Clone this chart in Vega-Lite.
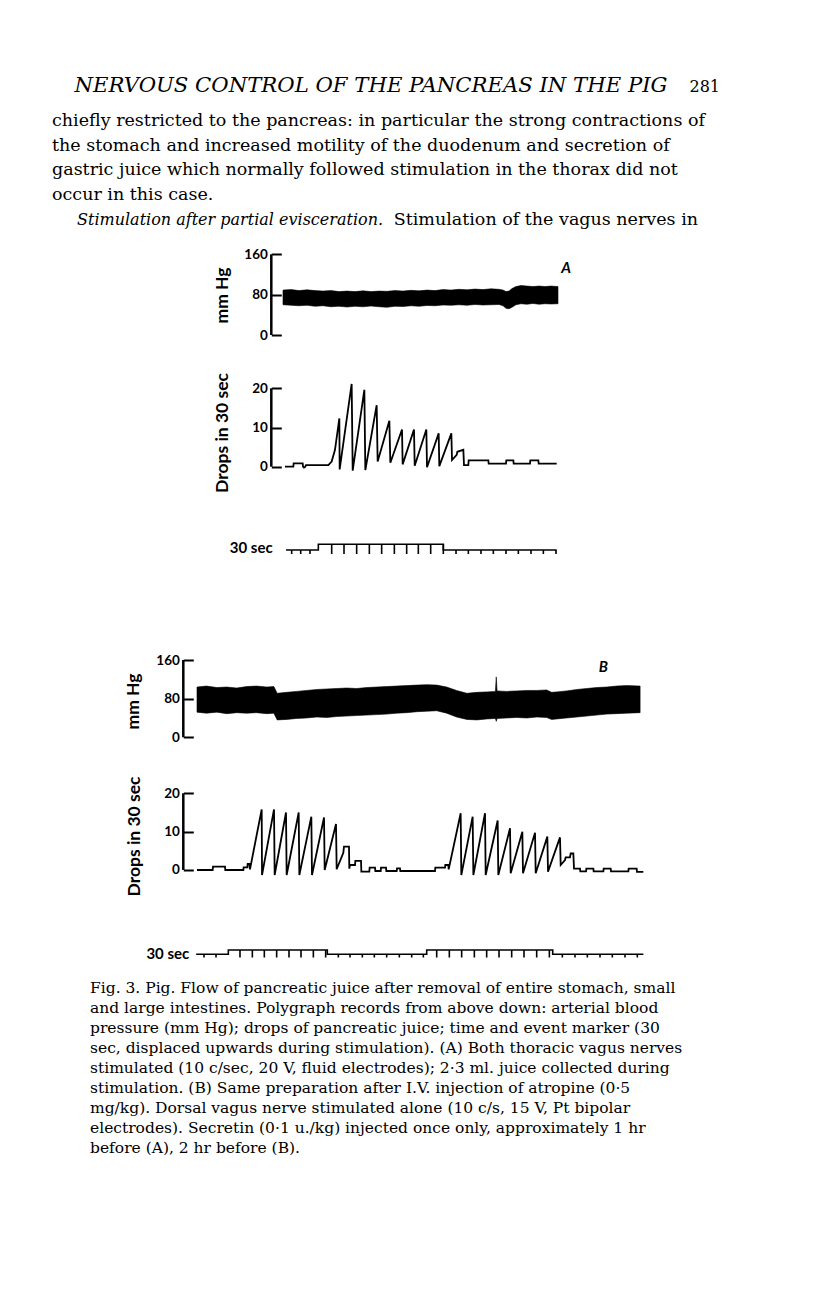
{
  "$schema": "https://vega.github.io/schema/vega-lite/v6.json",
  "padding": {"left": 52, "top": 0, "right": 0, "bottom": 0},
  "background": "white",
  "bounds": "flush",
  "spacing": 0,
  "config": {
    "view": {"stroke": null},
    "axis": {
      "domain": false, "grid": false,
      "tickSize": -10, "tickWidth": 2, "tickColor": "black",
      "labelFont": "Lato", "labelFontWeight": "bold", "labelFontSize": 13.5, "labelColor": "black", "labelPadding": 14,
      "titleFont": "Lato", "titleFontWeight": "bold", "titleFontSize": 17.5, "titleColor": "black"
    }
  },
  "datasets": {
    "page": [
      {"part": "head", "line": 0, "text": "NERVOUS CONTROL OF THE PANCREAS IN THE PIG"},
      {"part": "folio", "line": 0, "text": "281"},
      {"part": "body", "line": 1, "text": "chiefly restricted to the pancreas: in particular the strong contractions of"},
      {"part": "body", "line": 2, "text": "the stomach and increased motility of the duodenum and secretion of"},
      {"part": "body", "line": 3, "text": "gastric juice which normally followed stimulation in the thorax did not"},
      {"part": "body", "line": 4, "text": "occur in this case."},
      {"part": "italic", "line": 5, "text": "Stimulation after partial evisceration."},
      {"part": "tail", "line": 5, "text": "Stimulation of the vagus nerves in"}
    ],
    "caption": [
      {"line": 1, "text": "Fig. 3.  Pig. Flow of pancreatic juice after removal of entire stomach, small"},
      {"line": 2, "text": "and large intestines. Polygraph records from above down: arterial blood"},
      {"line": 3, "text": "pressure (mm Hg); drops of pancreatic juice; time and event marker (30"},
      {"line": 4, "text": "sec, displaced upwards during stimulation). (A) Both thoracic vagus nerves"},
      {"line": 5, "text": "stimulated (10 c/sec, 20 V, fluid electrodes); 2·3 ml. juice collected during"},
      {"line": 6, "text": "stimulation. (B) Same preparation after I.V. injection of atropine (0·5"},
      {"line": 7, "text": "mg/kg). Dorsal vagus nerve stimulated alone (10 c/s, 15 V, Pt bipolar"},
      {"line": 8, "text": "electrodes). Secretin (0·1 u./kg) injected once only, approximately 1 hr"},
      {"line": 9, "text": "before (A), 2 hr before (B)."}
    ],
    "bpA": [
      {"t": 0, "low": 60, "high": 89}, {"t": 19.4, "low": 59, "high": 90}, {"t": 38.7, "low": 58, "high": 88},
      {"t": 58.1, "low": 59, "high": 89.5}, {"t": 77.4, "low": 57, "high": 88}, {"t": 96.8, "low": 58, "high": 87},
      {"t": 116.1, "low": 56, "high": 88}, {"t": 135.5, "low": 57, "high": 86}, {"t": 154.8, "low": 55.5, "high": 87},
      {"t": 174.2, "low": 57, "high": 86}, {"t": 193.5, "low": 56, "high": 87.5}, {"t": 212.9, "low": 57.5, "high": 86},
      {"t": 232.3, "low": 56, "high": 87}, {"t": 251.6, "low": 55, "high": 86.5}, {"t": 271, "low": 57, "high": 88},
      {"t": 290.3, "low": 56.5, "high": 87}, {"t": 309.7, "low": 58, "high": 88.5}, {"t": 329, "low": 57, "high": 87.5},
      {"t": 348.4, "low": 58.5, "high": 89}, {"t": 367.7, "low": 58, "high": 88}, {"t": 387.1, "low": 59.5, "high": 90},
      {"t": 406.5, "low": 59, "high": 89}, {"t": 425.8, "low": 60, "high": 90.5}, {"t": 445.2, "low": 59, "high": 89.5},
      {"t": 464.5, "low": 60.5, "high": 91}, {"t": 483.9, "low": 59.5, "high": 90}, {"t": 503.2, "low": 60, "high": 91.5},
      {"t": 522.6, "low": 60.5, "high": 90.5}, {"t": 532.3, "low": 58, "high": 89}, {"t": 539.5, "low": 53, "high": 86},
      {"t": 546.8, "low": 52, "high": 87}, {"t": 554, "low": 55, "high": 92}, {"t": 563.7, "low": 60, "high": 96},
      {"t": 575.8, "low": 62, "high": 98}, {"t": 590.3, "low": 61, "high": 97}, {"t": 604.8, "low": 62.5, "high": 96},
      {"t": 619.4, "low": 61, "high": 97}, {"t": 633.9, "low": 62, "high": 96}, {"t": 648.4, "low": 61.5, "high": 97},
      {"t": 665.3, "low": 62, "high": 96}
    ],
    "bpB": [
      {"t": 0, "low": 52, "high": 104}, {"t": 23, "low": 50, "high": 106}, {"t": 48, "low": 52, "high": 103},
      {"t": 72, "low": 49, "high": 104}, {"t": 96, "low": 51, "high": 102}, {"t": 120, "low": 50, "high": 105},
      {"t": 144, "low": 51, "high": 106}, {"t": 169, "low": 49, "high": 104}, {"t": 186, "low": 50, "high": 105},
      {"t": 194, "low": 36, "high": 91}, {"t": 217, "low": 37, "high": 93}, {"t": 241, "low": 39, "high": 95},
      {"t": 265, "low": 40, "high": 97}, {"t": 290, "low": 42, "high": 99}, {"t": 314, "low": 41, "high": 100},
      {"t": 338, "low": 43, "high": 101}, {"t": 362, "low": 44, "high": 102}, {"t": 386, "low": 45, "high": 101},
      {"t": 411, "low": 46, "high": 103}, {"t": 435, "low": 47, "high": 104}, {"t": 459, "low": 48, "high": 105},
      {"t": 483, "low": 50, "high": 106}, {"t": 507, "low": 51, "high": 107}, {"t": 532, "low": 53, "high": 108},
      {"t": 556, "low": 54, "high": 109}, {"t": 580, "low": 55, "high": 108}, {"t": 604, "low": 50, "high": 104},
      {"t": 628, "low": 42, "high": 97}, {"t": 653, "low": 37, "high": 91}, {"t": 677, "low": 36, "high": 93},
      {"t": 701, "low": 38, "high": 94}, {"t": 722, "low": 39, "high": 95}, {"t": 724, "low": 33, "high": 125},
      {"t": 726, "low": 39, "high": 96}, {"t": 749, "low": 40, "high": 95}, {"t": 773, "low": 41, "high": 96},
      {"t": 798, "low": 40, "high": 97}, {"t": 822, "low": 42, "high": 97}, {"t": 846, "low": 41, "high": 98},
      {"t": 858, "low": 37, "high": 93}, {"t": 870, "low": 38, "high": 94}, {"t": 894, "low": 40, "high": 96},
      {"t": 919, "low": 42, "high": 99}, {"t": 943, "low": 44, "high": 101}, {"t": 967, "low": 46, "high": 103},
      {"t": 991, "low": 48, "high": 104}, {"t": 1015, "low": 49, "high": 106}, {"t": 1040, "low": 50, "high": 107},
      {"t": 1072, "low": 51, "high": 106}
    ],
    "dropsA": [
      {"t": 4.8, "v": 0}, {"t": 25.0, "v": 0}, {"t": 25.8, "v": 0.85}, {"t": 47.6, "v": 0.85}, {"t": 48.4, "v": 0},
      {"t": 50.8, "v": -0.25}, {"t": 54.0, "v": 0}, {"t": 55.6, "v": 0.4}, {"t": 109.7, "v": 0.4}, {"t": 117.7, "v": 1.3},
      {"t": 125.8, "v": 4.3}, {"t": 136.3, "v": 12.3}, {"t": 137.1, "v": -0.7}, {"t": 166.1, "v": 21.1}, {"t": 168.6, "v": -1.0},
      {"t": 196.8, "v": 19.6}, {"t": 199.2, "v": -0.85}, {"t": 226.6, "v": 15.7}, {"t": 229.0, "v": 1.3},
      {"t": 257.3, "v": 11.7}, {"t": 259.7, "v": 1.0}, {"t": 287.9, "v": 9.5}, {"t": 289.5, "v": 0.6},
      {"t": 316.9, "v": 9.5}, {"t": 318.6, "v": 0.25}, {"t": 346.8, "v": 9.5}, {"t": 348.4, "v": -0.15},
      {"t": 376.6, "v": 8.5}, {"t": 378.2, "v": 0.15}, {"t": 407.3, "v": 8.5}, {"t": 408.9, "v": 1.7},
      {"t": 420.2, "v": 3.0}, {"t": 421.8, "v": 3.8}, {"t": 436.3, "v": 4.3}, {"t": 437.9, "v": 0.4},
      {"t": 448.4, "v": 0.4}, {"t": 449.2, "v": 1.6}, {"t": 496.8, "v": 1.6}, {"t": 497.6, "v": 0.8},
      {"t": 539.5, "v": 0.8}, {"t": 540.3, "v": 1.6}, {"t": 557.3, "v": 1.6}, {"t": 558.1, "v": 0.8},
      {"t": 597.6, "v": 0.8}, {"t": 598.4, "v": 1.6}, {"t": 617.7, "v": 1.6}, {"t": 618.6, "v": 0.8}, {"t": 662.1, "v": 0.8}
    ],
    "dropsB": [
      {"t": 0, "v": 0}, {"t": 37.9, "v": 0}, {"t": 38.7, "v": 0.87}, {"t": 67.7, "v": 0.87}, {"t": 68.5, "v": 0},
      {"t": 112.1, "v": 0}, {"t": 112.9, "v": 0.7}, {"t": 121.8, "v": 0.7}, {"t": 122.6, "v": 1.57}, {"t": 126.6, "v": 1.57},
      {"t": 128.2, "v": 0.17}, {"t": 156.5, "v": 15.8}, {"t": 157.3, "v": -1.3}, {"t": 186.3, "v": 15.8}, {"t": 187.9, "v": -1.3},
      {"t": 215.3, "v": 15.0}, {"t": 216.9, "v": -1.3}, {"t": 246.0, "v": 15.0}, {"t": 247.6, "v": -1.3},
      {"t": 276.6, "v": 13.9}, {"t": 278.2, "v": -1.3}, {"t": 307.3, "v": 13.7}, {"t": 308.9, "v": 0},
      {"t": 336.3, "v": 12.0}, {"t": 337.9, "v": 0.2}, {"t": 354.0, "v": 4.5}, {"t": 355.6, "v": 6.1},
      {"t": 367.7, "v": 6.1}, {"t": 368.5, "v": 0.35}, {"t": 370.2, "v": 1.3}, {"t": 382.3, "v": 1.3},
      {"t": 383.1, "v": 2.4}, {"t": 396.8, "v": 2.4}, {"t": 397.6, "v": -0.43}, {"t": 416.9, "v": -0.43},
      {"t": 417.7, "v": 0.6}, {"t": 430.7, "v": 0.6}, {"t": 431.5, "v": -0.26}, {"t": 444.4, "v": -0.26},
      {"t": 445.2, "v": 0.6}, {"t": 457.3, "v": 0.6}, {"t": 458.1, "v": -0.26}, {"t": 483.1, "v": -0.26},
      {"t": 483.9, "v": 0.4}, {"t": 491.1, "v": 0.4}, {"t": 491.9, "v": -0.26}, {"t": 575.8, "v": -0.26},
      {"t": 576.6, "v": 0.6}, {"t": 600.0, "v": 0.6}, {"t": 600.8, "v": 1.3}, {"t": 608.1, "v": 1.3},
      {"t": 608.9, "v": 0.17}, {"t": 637.9, "v": 14.8}, {"t": 639.5, "v": -1.3}, {"t": 666.9, "v": 13.9},
      {"t": 668.6, "v": -1.3}, {"t": 696.8, "v": 14.8}, {"t": 698.4, "v": -1.3}, {"t": 727.4, "v": 12.9},
      {"t": 729.0, "v": -1.3}, {"t": 757.3, "v": 10.9}, {"t": 758.9, "v": -0.87}, {"t": 787.1, "v": 10.0},
      {"t": 788.7, "v": -0.87}, {"t": 817.8, "v": 9.7}, {"t": 819.4, "v": -0.87}, {"t": 847.6, "v": 8.7},
      {"t": 849.2, "v": -0.43}, {"t": 878.2, "v": 8.5}, {"t": 879.9, "v": 1.3}, {"t": 890.3, "v": 2.6},
      {"t": 891.9, "v": 3.3}, {"t": 902.4, "v": 3.3}, {"t": 904.0, "v": 4.3}, {"t": 910.5, "v": 4.3},
      {"t": 912.1, "v": 0.35}, {"t": 926.6, "v": 0.35}, {"t": 927.4, "v": -0.35}, {"t": 941.2, "v": -0.35},
      {"t": 942.0, "v": 0.35}, {"t": 958.9, "v": 0.35}, {"t": 959.7, "v": -0.35}, {"t": 983.1, "v": -0.35},
      {"t": 983.9, "v": 0.35}, {"t": 1000.8, "v": 0.35}, {"t": 1001.6, "v": -0.35}, {"t": 1043.6, "v": -0.35},
      {"t": 1044.4, "v": 0.35}, {"t": 1063.7, "v": 0.35}, {"t": 1064.5, "v": -0.5}, {"t": 1079.8, "v": -0.5}
    ],
    "markA_line": [
      {"t": 7.3, "state": 0}, {"t": 85.5, "state": 1}, {"t": 387.9, "state": 0}, {"t": 662.1, "state": 0}
    ],
    "markA_ticks": [
      {"t": 21.0, "state": 0}, {"t": 42.8, "state": 0}, {"t": 65.3, "state": 0},
      {"t": 117.8, "state": 1}, {"t": 147.6, "state": 1}, {"t": 178.2, "state": 1}, {"t": 208.9, "state": 1},
      {"t": 238.7, "state": 1}, {"t": 269.4, "state": 1}, {"t": 299.2, "state": 1}, {"t": 327.4, "state": 1},
      {"t": 357.3, "state": 1}, {"t": 387.9, "state": 1},
      {"t": 418.6, "state": 0}, {"t": 448.4, "state": 0}, {"t": 479.0, "state": 0}, {"t": 508.9, "state": 0},
      {"t": 539.5, "state": 0}, {"t": 569.4, "state": 0}, {"t": 600.0, "state": 0}, {"t": 629.9, "state": 0},
      {"t": 660.5, "state": 0}
    ],
    "markB_line": [
      {"t": -2, "state": 0}, {"t": 75.8, "state": 1}, {"t": 315.3, "state": 0}, {"t": 555.7, "state": 1},
      {"t": 860.6, "state": 0}, {"t": 1080, "state": 0}
    ],
    "markB_ticks": [
      {"t": 16.9, "state": 0}, {"t": 46.0, "state": 0},
      {"t": 104.0, "state": 1}, {"t": 133.9, "state": 1}, {"t": 162.9, "state": 1}, {"t": 192.7, "state": 1},
      {"t": 222.6, "state": 1}, {"t": 251.6, "state": 1}, {"t": 281.5, "state": 1}, {"t": 311.3, "state": 1},
      {"t": 341.9, "state": 0}, {"t": 370.2, "state": 0}, {"t": 400.0, "state": 0}, {"t": 429.0, "state": 0},
      {"t": 458.9, "state": 0}, {"t": 489.5, "state": 0}, {"t": 519.4, "state": 0}, {"t": 547.6, "state": 0},
      {"t": 579.9, "state": 1}, {"t": 610.5, "state": 1}, {"t": 640.3, "state": 1}, {"t": 671.0, "state": 1},
      {"t": 700.8, "state": 1}, {"t": 730.7, "state": 1}, {"t": 761.3, "state": 1}, {"t": 791.1, "state": 1},
      {"t": 821.8, "state": 1}, {"t": 852.5, "state": 1},
      {"t": 883.9, "state": 0}, {"t": 914.5, "state": 0}, {"t": 944.4, "state": 0}, {"t": 975.0, "state": 0},
      {"t": 1004.8, "state": 0}, {"t": 1035.5, "state": 0}, {"t": 1065.3, "state": 0}
    ]
  },
  "vconcat": [
    {
      "width": 670, "height": 228,
      "data": {"name": "page"},
      "encoding": {
        "y": {"field": "line", "type": "quantitative", "scale": {"domain": [-4.0624, 5.12], "reverse": true, "nice": false, "zero": false}, "axis": null},
        "text": {"field": "text"}
      },
      "layer": [
        {"transform": [{"filter": "datum.part === 'head'"}],
         "mark": {"type": "text", "x": 0, "dx": 22.5, "dy": -9.2, "align": "left", "baseline": "alphabetic", "font": "DejaVu Serif", "fontStyle": "italic", "fontSize": 21.2, "fill": "black"}},
        {"transform": [{"filter": "datum.part === 'folio'"}],
         "mark": {"type": "text", "x": 0, "dx": 668, "dy": -9.2, "align": "right", "baseline": "alphabetic", "font": "DejaVu Serif", "fontSize": 16, "fill": "black"}},
        {"transform": [{"filter": "datum.part === 'body'"}],
         "mark": {"type": "text", "x": 0, "align": "left", "baseline": "alphabetic", "font": "DejaVu Serif", "fontSize": 17.5, "fill": "black"}},
        {"transform": [{"filter": "datum.part === 'italic'"}],
         "mark": {"type": "text", "x": 0, "dx": 25, "align": "left", "baseline": "alphabetic", "font": "DejaVu Serif", "fontStyle": "italic", "fontSize": 16, "fill": "black"}},
        {"transform": [{"filter": "datum.part === 'tail'"}],
         "mark": {"type": "text", "x": 0, "dx": 341.7, "align": "left", "baseline": "alphabetic", "font": "DejaVu Serif", "fontSize": 17.5, "fill": "black"}}
      ]
    },
    {
      "width": 670, "height": 134,
      "layer": [
        {"data": {"name": "bpA"},
         "mark": {"type": "area", "fill": "black", "stroke": "black", "strokeWidth": 0.6},
         "encoding": {
           "x": {"field": "t", "type": "quantitative", "scale": {"domain": [-558.87, 1062.1], "nice": false, "zero": false}, "axis": null},
           "y": {"field": "low", "type": "quantitative", "scale": {"domain": [-53.53, 212.14], "nice": false, "zero": false},
                 "axis": {"title": "mm Hg", "values": [0, 40, 80, 120, 160], "labelExpr": "datum.value % 80 === 0 ? datum.label : ''", "offset": -219.3, "titlePadding": 12}},
           "y2": {"field": "high"}
         }},
        {"data": {"values": [{}]},
         "mark": {"type": "rule", "strokeWidth": 2.5, "color": "black"},
         "encoding": {"x": {"datum": -28.3, "type": "quantitative", "axis": null}, "y": {"datum": 0, "type": "quantitative"}, "y2": {"datum": 160}}},
        {"data": {"values": [{}]},
         "mark": {"type": "text", "text": "A", "font": "Lato", "fontWeight": "bold", "fontStyle": "italic", "fontSize": 15, "fill": "black", "align": "center", "baseline": "middle"},
         "encoding": {"x": {"datum": 684.7, "type": "quantitative", "axis": null}, "y": {"datum": 132.8, "type": "quantitative"}}}
      ]
    },
    {
      "width": 670, "height": 141,
      "layer": [
        {"data": {"name": "dropsA"},
         "mark": {"type": "line", "color": "black", "strokeWidth": 1.8},
         "encoding": {
           "x": {"field": "t", "type": "quantitative", "scale": {"domain": [-558.87, 1062.1], "nice": false, "zero": false}, "axis": null},
           "y": {"field": "v", "type": "quantitative", "scale": {"domain": [-9.26, 26.71], "nice": false, "zero": false},
                 "axis": {"title": "Drops in 30 sec", "values": [0, 5, 10, 15, 20], "labelExpr": "datum.value % 10 === 0 ? datum.label : ''", "offset": -219.3, "titlePadding": 20}}
         }},
        {"data": {"values": [{}]},
         "mark": {"type": "rule", "strokeWidth": 2.5, "color": "black"},
         "encoding": {"x": {"datum": -28.3, "type": "quantitative", "axis": null}, "y": {"datum": 0, "type": "quantitative"}, "y2": {"datum": 20}}}
      ]
    },
    {
      "width": 670, "height": 134,
      "layer": [
        {"data": {"name": "markA_line"},
         "mark": {"type": "line", "interpolate": "step-after", "color": "black", "strokeWidth": 1.6},
         "encoding": {
           "x": {"field": "t", "type": "quantitative", "scale": {"domain": [-558.87, 1062.1], "nice": false, "zero": false}, "axis": null},
           "y": {"field": "state", "type": "quantitative", "scale": {"domain": [-15.263, 8.246], "nice": false, "zero": false}, "axis": null}
         }},
        {"data": {"name": "markA_ticks"},
         "mark": {"type": "rule", "color": "black", "strokeWidth": 1.6},
         "encoding": {
           "x": {"field": "t", "type": "quantitative", "axis": null},
           "y": {"field": "state", "type": "quantitative", "axis": null},
           "y2": {"datum": -0.702}
         }},
        {"data": {"values": [{}]},
         "mark": {"type": "text", "text": "30 sec", "font": "Lato", "fontWeight": "bold", "fontSize": 15, "fill": "black", "align": "right", "baseline": "middle"},
         "encoding": {"x": {"datum": -24.9, "type": "quantitative", "axis": null}, "y": {"datum": 0.3, "type": "quantitative", "axis": null}}}
      ]
    },
    {
      "width": 670, "height": 128,
      "layer": [
        {"data": {"name": "bpB"},
         "mark": {"type": "area", "fill": "black", "stroke": "black", "strokeWidth": 0.6},
         "encoding": {
           "x": {"field": "t", "type": "quantitative", "scale": {"domain": [-350.81, 1270.16], "nice": false, "zero": false}, "axis": null},
           "y": {"field": "low", "type": "quantitative", "scale": {"domain": [-57.33, 207.61], "nice": false, "zero": false},
                 "axis": {"title": "mm Hg", "values": [0, 40, 80, 120, 160], "labelExpr": "datum.value % 80 === 0 ? datum.label : ''", "offset": -131.3, "titlePadding": 13}},
           "y2": {"field": "high"}
         }},
        {"data": {"values": [{}]},
         "mark": {"type": "rule", "strokeWidth": 2.5, "color": "black"},
         "encoding": {"x": {"datum": -33.15, "type": "quantitative", "axis": null}, "y": {"datum": 0, "type": "quantitative"}, "y2": {"datum": 160}}},
        {"data": {"values": [{}]},
         "mark": {"type": "text", "text": "B", "font": "Lato", "fontWeight": "bold", "fontStyle": "italic", "fontSize": 15, "fill": "black", "align": "center", "baseline": "middle"},
         "encoding": {"x": {"datum": 983, "type": "quantitative", "axis": null}, "y": {"datum": 146.1, "type": "quantitative"}}}
      ]
    },
    {
      "width": 670, "height": 142,
      "layer": [
        {"data": {"name": "dropsB"},
         "mark": {"type": "line", "color": "black", "strokeWidth": 1.8},
         "encoding": {
           "x": {"field": "t", "type": "quantitative", "scale": {"domain": [-350.81, 1270.16], "nice": false, "zero": false}, "axis": null},
           "y": {"field": "v", "type": "quantitative", "scale": {"domain": [-9.648, 27.379], "nice": false, "zero": false},
                 "axis": {"title": "Drops in 30 sec", "values": [0, 5, 10, 15, 20], "labelExpr": "datum.value % 10 === 0 ? datum.label : ''", "offset": -131.3, "titlePadding": 20}}
         }},
        {"data": {"values": [{}]},
         "mark": {"type": "rule", "strokeWidth": 2.5, "color": "black"},
         "encoding": {"x": {"datum": -33.15, "type": "quantitative", "axis": null}, "y": {"datum": 0, "type": "quantitative"}, "y2": {"datum": 20}}}
      ]
    },
    {
      "width": 670, "height": 65,
      "layer": [
        {"data": {"name": "markB_line"},
         "mark": {"type": "line", "interpolate": "step-after", "color": "black", "strokeWidth": 1.6},
         "encoding": {
           "x": {"field": "t", "type": "quantitative", "scale": {"domain": [-350.81, 1270.16], "nice": false, "zero": false}, "axis": null},
           "y": {"field": "state", "type": "quantitative", "scale": {"domain": [-4.116, 11.0], "nice": false, "zero": false}, "axis": null}
         }},
        {"data": {"name": "markB_ticks"},
         "mark": {"type": "rule", "color": "black", "strokeWidth": 1.6},
         "encoding": {
           "x": {"field": "t", "type": "quantitative", "axis": null},
           "y": {"field": "state", "type": "quantitative", "axis": null},
           "y2": {"datum": -0.744}
         }},
        {"data": {"values": [{}]},
         "mark": {"type": "text", "text": "30 sec", "font": "Lato", "fontWeight": "bold", "fontSize": 15, "fill": "black", "align": "right", "baseline": "middle"},
         "encoding": {"x": {"datum": -18.6, "type": "quantitative", "axis": null}, "y": {"datum": 0, "type": "quantitative", "axis": null}}}
      ]
    },
    {
      "width": 670, "height": 324,
      "data": {"name": "caption"},
      "mark": {"type": "text", "x": 0, "dx": 38, "align": "left", "baseline": "alphabetic", "font": "DejaVu Serif", "fontSize": 15.5, "fill": "black"},
      "encoding": {
        "y": {"field": "line", "type": "quantitative", "scale": {"domain": [-0.035, 16.165], "reverse": true, "nice": false, "zero": false}, "axis": null},
        "text": {"field": "text"}
      }
    }
  ]
}
